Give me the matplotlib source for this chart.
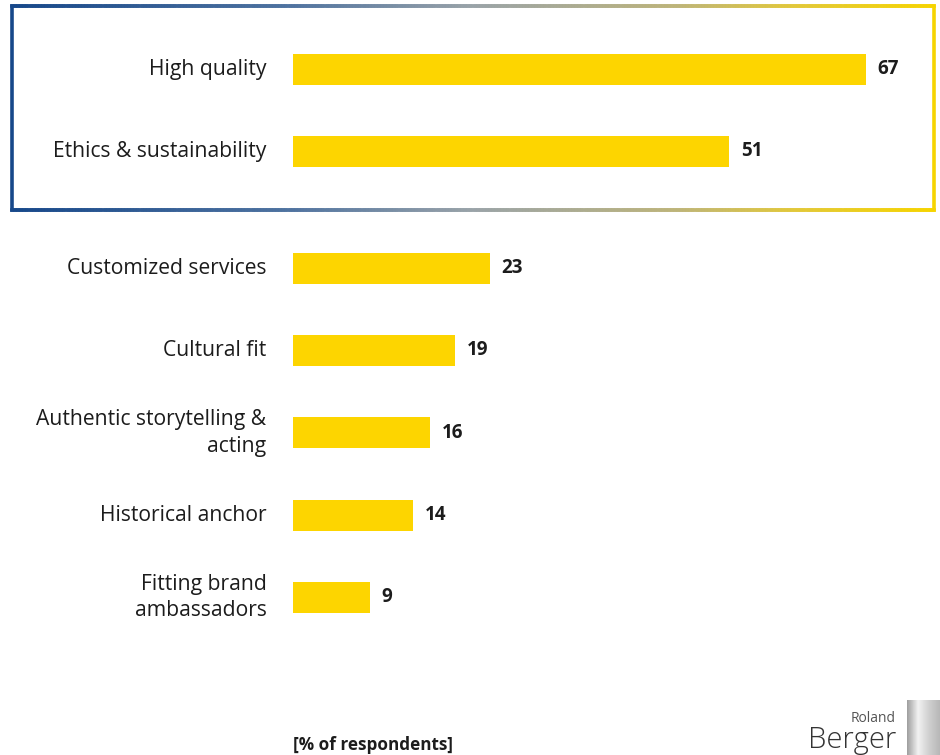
import numpy as np
import matplotlib.pyplot as plt
from matplotlib.collections import LineCollection
from matplotlib.colors import LinearSegmentedColormap

categories = ['High quality', 'Ethics & sustainability', 'Customized services',
              'Cultural fit', 'Authentic storytelling &\nacting',
              'Historical anchor', 'Fitting brand\nambassadors']
values = [67, 51, 23, 19, 16, 14, 9]
unit_label = '[% of respondents]'

W, H = 940, 755
BAR = '#FDD500'
TXT = '#1c1c1c'
plt.rcParams['font.family'] = ['Open Sans', 'DejaVu Sans']

fig = plt.figure(figsize=(W / 100, H / 100), dpi=100)

# bar axes: one row = 82 px, first row centred at 68 px, gap after the top two
row = 82.3
ax = fig.add_axes([293 / W, 0, 573 / W, 1])
pos = np.arange(len(values)) + 0.42 * (np.arange(len(values)) >= 2)
ax.barh(pos, values, height=31 / row, color=BAR)
ax.set_xlim(0, 67)
ax.set_ylim((H - 69) / row, -69 / row)
ax.axis('off')

for p, v, c in zip(pos, values, categories):
    ax.annotate(str(v), (v, p), xytext=(8.5, 0), textcoords='offset points',
                ha='left', va='center', fontsize=13.5, fontweight='bold',
                color=TXT)
    ax.annotate(c, (0, p), xytext=(-19, 0), textcoords='offset points',
                ha='right', va='center', fontsize=15.2, color=TXT,
                multialignment='right', linespacing=1.35)

# overlay in pixel coordinates for the frame, unit label and logo
ov = fig.add_axes([0, 0, 1, 1], zorder=-1)
ov.set_xlim(0, W)
ov.set_ylim(H, 0)
ov.axis('off')

cmap = LinearSegmentedColormap.from_list(
    'frame', [(0, '#17488a'), (0.3, '#4f73a0'), (0.5, '#9aa3a8'),
              (0.72, '#bdb47a'), (0.85, '#e2c83a'), (1, '#f6d400')])
x0, x1, y0, y1 = 12, 934, 6, 210
xs = np.linspace(x0, x1, 300)
segs = []
cols = []
for y in (y0, y1):
    for a, b in zip(xs[:-1], xs[1:]):
        segs.append([(a, y), (b, y)])
        cols.append(cmap((a - x0) / (x1 - x0)))
segs.append([(x0, y0), (x0, y1)])
cols.append(cmap(0.0))
segs.append([(x1, y0), (x1, y1)])
cols.append(cmap(1.0))
ov.add_collection(LineCollection(segs, colors=cols, linewidths=2.6,
                                 capstyle='projecting'))

ov.text(293, 745, unit_label, ha='left', va='center', fontsize=12.3,
        fontweight='bold', color=TXT)

# logo
ov.text(896, 718, 'Roland', ha='right', va='center', fontsize=10,
        color='#555555')
ov.text(896, 740, 'Berger', ha='right', va='center', fontsize=21,
        color='#333333', fontweight='light')
grad = np.linspace(0, 1, 50).reshape(1, -1)
ov.imshow(grad, cmap=LinearSegmentedColormap.from_list(
    'logo', ['#a0a0a0', '#f2f2f2', '#d0d0d0', '#b8b8b8']),
    extent=(907, 940, 755, 700), aspect='auto')
ov.set_xlim(0, W)
ov.set_ylim(H, 0)

fig.savefig('out.png', dpi=100, facecolor='white')
